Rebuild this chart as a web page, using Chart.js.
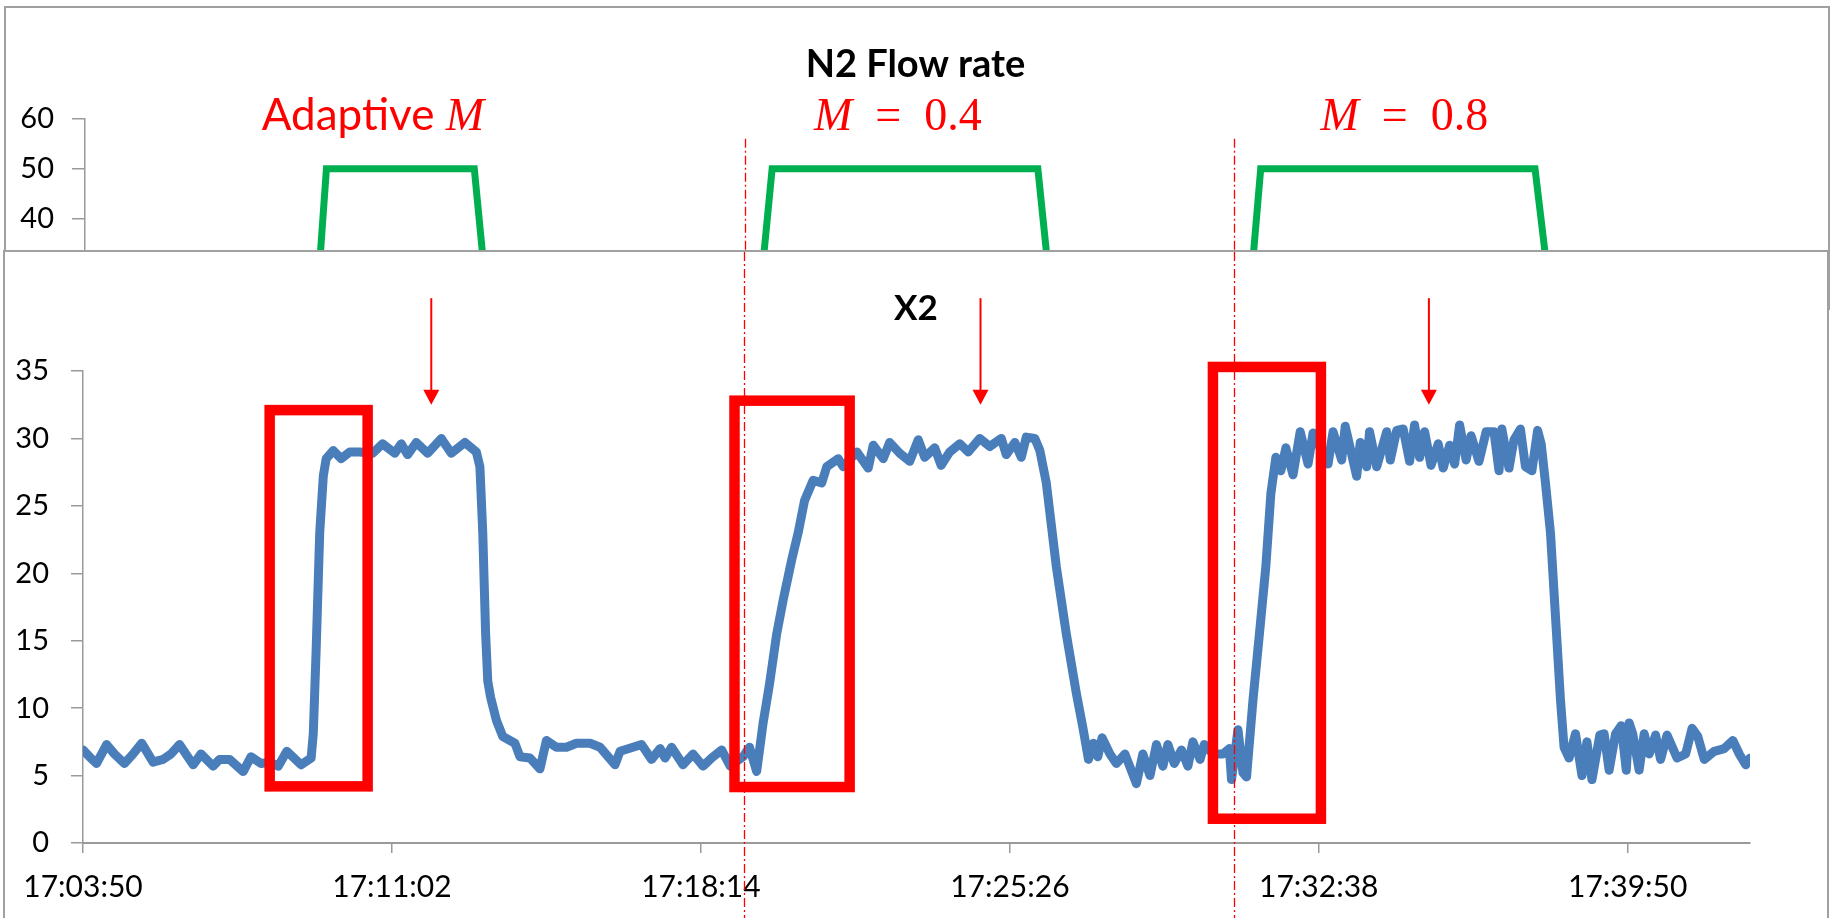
<!DOCTYPE html>
<html>
<head>
<meta charset="utf-8">
<title>N2 Flow rate / X2</title>
<script src="https://cdn.jsdelivr.net/npm/chart.js@4.4.1/dist/chart.umd.min.js"></script>
<style>
  html, body { margin: 0; padding: 0; background: #fff; }
  body { position: relative; width: 1831px; height: 918px; overflow: hidden; }
  #flow-chart { position: absolute; left: 0; top: 0; z-index: 1; }
  #top-frame { position: absolute; left: 4px; top: 6px; width: 1822px; height: 300px; border: 2px solid #a0a0a0; z-index: 2; }
  #bottom-frame { position: absolute; left: 3px; top: 250px; width: 1822px; height: 700px; border: 2px solid #a0a0a0; background: #fff; z-index: 3; }
  #x2-chart { position: absolute; left: 0; top: 0; }
</style>
</head>
<body>
<canvas id="flow-chart" width="1831" height="460"></canvas>
<div id="top-frame"></div>
<div id="bottom-frame"><canvas id="x2-chart" width="1822" height="666"></canvas></div>

<script>
// time axis: seconds after 17:03:50
const tickSeconds = [0, 432, 864, 1296, 1728, 2160];
const timeLabels = ["17:03:50", "17:11:02", "17:18:14", "17:25:26", "17:32:38", "17:39:50"];
const timeEnd = 2331;

// N2 flow rate set point
const flowTime = [0, 313, 338, 545, 579, 928, 962, 1334, 1370, 1616, 1646, 2030, 2072, 2331];
const flowValue = [0, 0, 50, 50, 0, 0, 50, 50, 0, 0, 50, 50, 0, 0];

// X2 measurement
const x2Time = [
  0, 9, 19, 33, 44, 58, 70, 82, 98, 112, 123, 135, 154, 165, 182, 191, 205, 224, 235, 249,
  261, 273, 285, 305, 319, 322, 326, 331, 336, 340, 350, 361, 373, 387, 405, 419, 436, 445, 454, 466,
  482, 501, 515, 534, 550, 555, 559, 563, 566, 570, 578, 587, 604, 611, 625, 639, 648, 662, 676, 690,
  709, 723, 744, 751, 769, 781, 795, 807, 814, 823, 839, 853, 867, 879, 893, 905, 923, 932, 942, 951,
  960, 970, 979, 991, 1000, 1009, 1021, 1033, 1040, 1056, 1063, 1082, 1098, 1105, 1119, 1128, 1142, 1156, 1168, 1177,
  1191, 1200, 1212, 1226, 1238, 1254, 1268, 1284, 1291, 1303, 1312, 1319, 1331, 1338, 1347, 1361, 1375, 1389, 1398, 1406,
  1413, 1419, 1425, 1436, 1445, 1457, 1473, 1482, 1492, 1501, 1510, 1517, 1526, 1536, 1545, 1552, 1562, 1568, 1580, 1594,
  1603, 1606, 1615, 1622, 1627, 1636, 1645, 1654, 1661, 1668, 1675, 1682, 1692, 1702, 1713, 1720, 1741, 1748, 1760, 1765,
  1781, 1786, 1795, 1799, 1809, 1823, 1828, 1837, 1846, 1855, 1862, 1869, 1876, 1885, 1895, 1902, 1911, 1918, 1925, 1934,
  1941, 1952, 1962, 1973, 1980, 1984, 1994, 2001, 2010, 2017, 2026, 2034, 2039, 2045, 2052, 2059, 2066, 2071, 2078, 2087,
  2096, 2103, 2110, 2121, 2127, 2134, 2143, 2151, 2158, 2162, 2167, 2176, 2183, 2190, 2199, 2206, 2215, 2229, 2241, 2250,
  2258, 2267, 2281, 2295, 2307, 2316, 2325, 2331
];
const x2Value = [
  6.9, 6.4, 5.9, 7.3, 6.6, 5.9, 6.6, 7.4, 6.0, 6.2, 6.6, 7.3, 5.8, 6.6, 5.7, 6.2, 6.2, 5.3, 6.4, 5.9,
  6.0, 5.7, 6.8, 5.8, 6.3, 8.1, 14.3, 23.0, 27.2, 28.5, 29.1, 28.5, 29.0, 29.0, 28.9, 29.6, 28.9, 29.6, 28.8, 29.7,
  28.9, 30.0, 28.9, 29.7, 29.0, 27.9, 23.0, 15.5, 12.0, 10.8, 9.1, 7.9, 7.4, 6.4, 6.3, 5.5, 7.6, 7.1, 7.1, 7.4,
  7.4, 7.1, 5.8, 6.8, 7.1, 7.3, 6.2, 7.0, 6.3, 7.1, 5.8, 6.6, 5.7, 6.3, 6.9, 5.7, 6.4, 7.1, 5.3, 8.9,
  11.8, 15.5, 18.0, 21.0, 23.0, 25.4, 26.9, 26.7, 27.9, 28.5, 27.9, 29.0, 27.8, 29.5, 28.5, 29.7, 28.9, 28.3, 29.9, 28.6,
  29.3, 28.0, 29.0, 29.6, 29.0, 30.0, 29.4, 30.0, 28.8, 29.7, 28.6, 30.1, 30.0, 29.1, 26.7, 20.5, 15.5, 11.1, 8.6, 6.2,
  7.4, 6.4, 7.8, 6.6, 5.9, 6.6, 4.4, 6.6, 5.0, 7.3, 5.7, 7.3, 5.9, 6.9, 5.7, 7.5, 6.2, 7.3, 6.6, 6.6,
  7.0, 4.7, 8.4, 5.2, 4.9, 10.6, 15.5, 20.5, 25.9, 28.6, 27.6, 29.3, 27.3, 30.5, 28.1, 30.4, 28.1, 30.5, 28.4, 30.9,
  27.2, 29.7, 27.9, 30.5, 27.9, 30.5, 28.4, 30.6, 30.7, 28.3, 31.0, 28.6, 30.5, 28.0, 29.6, 27.8, 29.5, 28.1, 31.0, 28.4,
  30.2, 28.3, 30.5, 30.5, 27.6, 30.7, 27.8, 29.9, 30.7, 27.9, 27.6, 30.6, 29.6, 26.7, 23.0, 16.8, 10.6, 7.1, 6.3, 8.1,
  5.0, 7.5, 4.7, 8.0, 8.1, 5.4, 8.1, 8.7, 5.4, 8.9, 8.1, 5.4, 8.1, 6.6, 8.0, 6.2, 8.0, 6.3, 6.6, 8.5,
  7.9, 6.2, 6.8, 7.0, 7.6, 6.6, 5.8, 6.3
];

// red mark-up, in axis units
const switchTimes = [924, 1609];
const runLabels = [
  { t: 403, parts: [["Adaptive ", "sans"], ["M", "math"]] },
  { t: 1138, parts: [["M", "math"], ["\u2002=\u20020.4", "num"]] },
  { t: 1847, parts: [["M", "math"], ["\u2002=\u20020.8", "num"]] }
];
const riseBoxes = [
  { t0: 261, t1: 398, lo: 4.2, hi: 32.1 },
  { t0: 911, t1: 1072, lo: 4.15, hi: 32.8 },
  { t0: 1580, t1: 1731, lo: 1.8, hi: 35.3 }
];
const steadyArrows = [487, 1255, 1882];

const RED = "#ff0000";
const AXIS = "#9a9a9a";
const labelFonts = {
  sans: "44px Lato",
  math: "italic 46px 'Liberation Serif'",
  num: "46px 'Liberation Serif'"
};

function dashDot(ctx) {
  ctx.strokeStyle = RED;
  ctx.lineWidth = 1.3;
  ctx.setLineDash([9, 3, 2, 3]);
}

// labels and the start of the switch lines over the flow chart
const flowMarks = {
  id: "flowMarks",
  afterDatasetsDraw(chart) {
    const { ctx, scales: { x, y } } = chart;
    ctx.save();
    dashDot(ctx);
    switchTimes.forEach(t => {
      const px = Math.round(x.getPixelForValue(t)) + 0.5;
      ctx.beginPath();
      ctx.moveTo(px, y.getPixelForValue(56));
      ctx.lineTo(px, chart.height);
      ctx.stroke();
    });
    ctx.setLineDash([]);
    ctx.fillStyle = RED;
    ctx.textBaseline = "alphabetic";
    ctx.textAlign = "left";
    runLabels.forEach(lab => {
      let w = 0;
      lab.parts.forEach(([s, f]) => { ctx.font = labelFonts[f]; w += ctx.measureText(s).width; });
      let px = x.getPixelForValue(lab.t) - w / 2;
      const base = y.getPixelForValue(57.8);
      lab.parts.forEach(([s, f]) => {
        ctx.font = labelFonts[f];
        ctx.fillText(s, px, base);
        px += ctx.measureText(s).width;
      });
    });
    ctx.restore();
  }
};

// switch lines, boxes round the rise and arrows at the steady part
const x2Marks = {
  id: "x2Marks",
  afterDatasetsDraw(chart) {
    const { ctx, scales: { x, y } } = chart;
    ctx.save();
    dashDot(ctx);
    switchTimes.forEach(t => {
      const px = Math.round(x.getPixelForValue(t)) + 0.5;
      ctx.beginPath();
      ctx.moveTo(px, 0);
      ctx.lineTo(px, chart.height);
      ctx.stroke();
    });
    ctx.setLineDash([]);
    ctx.strokeStyle = RED;
    ctx.lineWidth = 10.5;
    ctx.lineJoin = "miter";
    riseBoxes.forEach(b => {
      const l = x.getPixelForValue(b.t0), r = x.getPixelForValue(b.t1);
      const top = y.getPixelForValue(b.hi), bot = y.getPixelForValue(b.lo);
      ctx.strokeRect(l, top, r - l, bot - top);
    });
    ctx.fillStyle = RED;
    ctx.lineWidth = 2;
    steadyArrows.forEach(t => {
      const px = x.getPixelForValue(t);
      const y0 = y.getPixelForValue(40.4), tip = y.getPixelForValue(32.5);
      ctx.beginPath();
      ctx.moveTo(px, y0);
      ctx.lineTo(px, tip - 12);
      ctx.stroke();
      ctx.beginPath();
      ctx.moveTo(px - 8, tip - 15);
      ctx.lineTo(px + 8, tip - 15);
      ctx.lineTo(px, tip);
      ctx.closePath();
      ctx.fill();
    });
    ctx.restore();
  }
};

const timeAxis = (shown, height) => ({
  type: "linear",
  display: shown,
  min: 0,
  max: timeEnd,
  afterBuildTicks: s => { s.ticks = tickSeconds.map(v => ({ value: v })); },
  afterFit: s => { s.height = height; },
  grid: { drawOnChartArea: false, drawTicks: true, tickLength: 10, color: AXIS, lineWidth: 1.5 },
  border: { color: AXIS, width: 2 },
  ticks: {
    callback: (v, i) => timeLabels[i],
    autoSkip: false,
    maxRotation: 0,
    color: "#000",
    font: { family: "Lato", size: 30 },
    padding: 16
  }
});

const valueAxis = (max, step, width, tickLen, pad) => ({
  min: 0,
  max: max,
  afterFit: s => { s.width = width; },
  grid: { drawOnChartArea: false, drawTicks: true, tickLength: tickLen, color: AXIS, lineWidth: 1.5 },
  border: { color: AXIS, width: 1.5 },
  ticks: { stepSize: step, color: "#000", font: { family: "Lato", size: 29 }, padding: pad }
});

// empty strip on the right so the title centres on the whole panel
const rightGap = width => ({
  position: "right",
  min: 0,
  max: 1,
  afterFit: s => { s.width = width; },
  grid: { display: false },
  border: { display: false },
  ticks: { display: false }
});

// N2 flow rate (upper panel, mostly hidden behind the X2 panel)
new Chart(document.getElementById("flow-chart"), {
  type: "line",
  data: {
    datasets: [{
      data: flowTime.map((t, i) => ({ x: t, y: flowValue[i] })),
      borderColor: "#00b050",
      borderWidth: 7,
      pointRadius: 0,
      tension: 0
    }]
  },
  options: {
    responsive: false,
    animation: false,
    devicePixelRatio: 1,
    layout: { padding: { left: 0, right: 0, top: 0, bottom: 41 } },
    plugins: {
      legend: { display: false },
      tooltip: { enabled: false },
      title: {
        display: true, text: "N2 Flow rate", color: "#000",
        font: { family: "Lato", size: 38, weight: "bold" },
        padding: { top: 42, bottom: 31 }
      }
    },
    scales: { x: timeAxis(false, 0), y: valueAxis(60, 10, 85, 13, 18), gap: rightGap(81) }
  },
  plugins: [flowMarks]
});

// X2 (lower panel)
new Chart(document.getElementById("x2-chart"), {
  type: "line",
  data: {
    datasets: [{
      data: x2Time.map((t, i) => ({ x: t, y: x2Value[i] })),
      borderColor: "#4a7ebb",
      borderWidth: 9,
      pointRadius: 0,
      tension: 0,
      borderJoinStyle: "round",
      borderCapStyle: "round"
    }]
  },
  options: {
    responsive: false,
    animation: false,
    devicePixelRatio: 1,
    layout: { padding: { left: 0, right: 0, top: 0, bottom: 0 } },
    plugins: {
      legend: { display: false },
      tooltip: { enabled: false },
      title: {
        display: true, text: "X2", color: "#000",
        font: { family: "Lato", size: 35, weight: "bold" },
        padding: { top: 36, bottom: 41 }
      }
    },
    scales: { x: timeAxis(true, 75), y: valueAxis(35, 5, 78, 12, 22), gap: rightGap(77) }
  },
  plugins: [x2Marks]
});
</script>
</body>
</html>
